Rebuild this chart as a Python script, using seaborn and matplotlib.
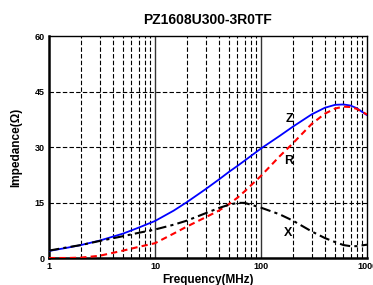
import numpy as np
import pandas as pd
import matplotlib
matplotlib.use("Agg")
import matplotlib.pyplot as plt
import seaborn as sns
from matplotlib.ticker import FixedLocator, NullFormatter

sns.set_style("white")
plt.rcParams["font.family"] = ["Liberation Sans", "DejaVu Sans"]
plt.rcParams["font.weight"] = "bold"
plt.rcParams["text.color"] = "black"
plt.rcParams["axes.labelcolor"] = "black"
plt.rcParams["xtick.color"] = "black"
plt.rcParams["ytick.color"] = "black"

freq = [1, 1.5, 2, 3, 5, 7, 10, 15, 20, 30, 40, 50, 60, 70, 100, 150, 200,
        300, 400, 500, 600, 700, 800, 1000]
z_vals = [1.9, 2.8, 3.5, 4.7, 6.6, 8.2, 10.0, 12.8, 15.1, 18.6, 21.2, 23.3,
          24.9, 26.3, 29.6, 33.0, 35.5, 38.8, 40.6, 41.4, 41.5, 41.2, 40.5, 38.6]
r_vals = [0.0, 0.0, 0.1, 0.6, 2.0, 3.0, 4.0, 6.6, 8.5, 11.0, 12.8, 14.6,
          16.3, 18.0, 22.2, 27.5, 31.0, 36.2, 39.0, 40.4, 40.9, 40.8, 40.3, 38.8]
x_vals = [2.0, 2.9, 3.5, 4.6, 5.9, 6.8, 7.7, 9.0, 10.1, 12.1, 13.5, 14.4,
          14.9, 14.9, 13.6, 11.8, 10.1, 7.2, 5.4, 4.3, 3.5, 3.2, 3.2, 3.6]

df = pd.DataFrame({"freq": freq, "Z": z_vals, "R": r_vals, "X": x_vals})

fig = plt.figure(figsize=(3.73, 2.85), dpi=100)
ax = fig.add_axes([49 / 373, 1 - 258 / 285, (367 - 49) / 373, (258 - 36) / 285])

ax.set_xscale("log")
ax.set_xlim(1, 1000)
ax.set_ylim(0, 60)

# grid: solid at decades, dashed otherwise
dash = (0, (4, 2))
for dec in [1, 10, 100]:
    for m in range(2, 10):
        ax.axvline(dec * m, color="black", lw=0.8, ls=dash, zorder=1)
for dec in [10, 100]:
    ax.axvline(dec, color="#333333", lw=1.0, zorder=1)
for yv in [15, 30, 45]:
    ax.axhline(yv, color="black", lw=0.8, ls=dash, zorder=1)

sns.lineplot(data=df, x="freq", y="Z", ax=ax, color="#0000ff", lw=1.3, zorder=3)
sns.lineplot(data=df, x="freq", y="R", ax=ax, color="#ff0000", lw=1.5, zorder=3,
             linestyle=(0, (3, 2)))
sns.lineplot(data=df, x="freq", y="X", ax=ax, color="black", lw=1.5, zorder=3,
             linestyle=(0, (5, 2, 1.5, 2)))

ax.text(184, 37.6, "Z", fontsize=9, fontweight="bold", ha="center", va="center")
ax.text(184, 26.2, "R", fontsize=9, fontweight="bold", ha="center", va="center")
ax.text(180, 6.8, "X", fontsize=9, fontweight="bold", ha="center", va="center")

ax.xaxis.set_major_locator(FixedLocator([1, 10, 100, 1000]))
ax.xaxis.set_minor_formatter(NullFormatter())
ax.set_xticks([1, 10, 100, 1000], labels=["1", "10", "100", "1000"])
ax.set_yticks([0, 15, 30, 45, 60])
ax.tick_params(axis="both", which="both", length=0, labelsize=6.5, pad=3)
for lab in ax.get_xticklabels() + ax.get_yticklabels():
    lab.set_fontweight("bold")

for side in ["left", "bottom"]:
    ax.spines[side].set_linewidth(1.8)
    ax.spines[side].set_color("black")
for side in ["top", "right"]:
    ax.spines[side].set_linewidth(1.0)
    ax.spines[side].set_color("black")

ax.set_xlabel("Frequency(MHz)", fontsize=8.5, fontweight="bold", labelpad=2)
ax.set_ylabel("Impedance(Ω)", fontsize=8.5, fontweight="bold", labelpad=9)
ax.set_title("PZ1608U300-3R0TF", fontsize=10, fontweight="bold", pad=9)

fig.savefig("out.png", dpi=100)
